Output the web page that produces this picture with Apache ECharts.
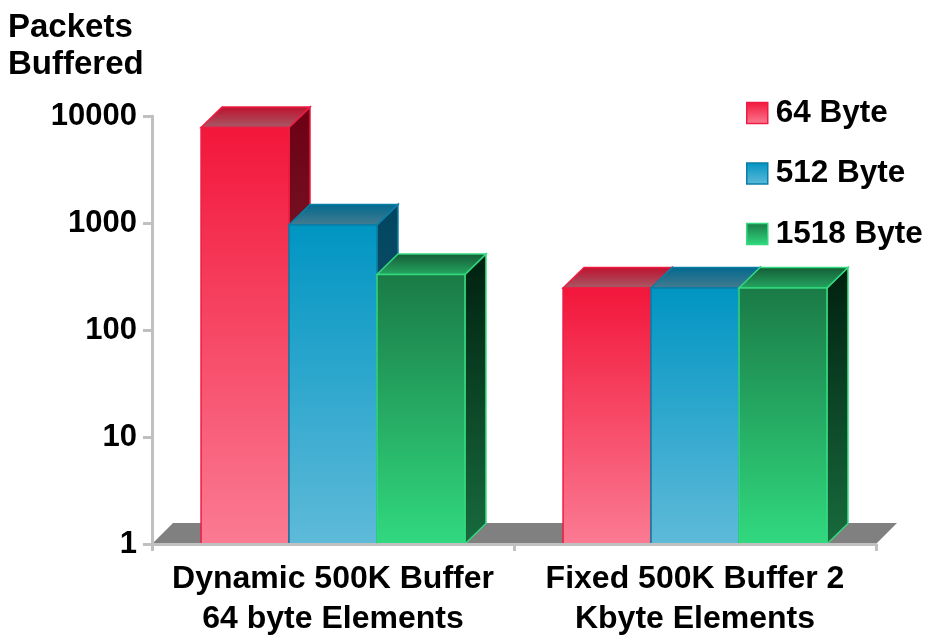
<!DOCTYPE html>
<html>
<head>
<meta charset="utf-8">
<style>html,body{margin:0;padding:0;background:#fff}#c{width:927px;height:635px}</style>
<script src="https://cdn.jsdelivr.net/npm/echarts@6/dist/echarts.min.js"></script>
</head>
<body>
<div id="c"></div>
<script>
const categories = ['Dynamic 500K Buffer\n64 byte Elements', 'Fixed 500K Buffer 2\nKbyte Elements'];
const seriesNames = ['64 Byte', '512 Byte', '1518 Byte'];
const values64 = [7800, 247];
const values512 = [960, 247];
const values1518 = [330, 247];

const FONT = '"Liberation Sans", Arial, sans-serif';
const DX = 21, DY = -20.5;
function grad(a, b) {
  return {type:'linear', x:0, y:0, x2:0, y2:1, colorStops:[{offset:0,color:a},{offset:1,color:b}]};
}
const palette = [
  {front:['#f2163a','#fb7b93'], top:['#c00f2c','#a55c68'], side:['#6c0012','#8a3a4a'], line:'#ee1c42'},
  {front:['#0095c2','#5fbad9'], top:['#00688e','#457c90'], side:['#004560','#2f6070'], line:'#0a7ea6'},
  {front:['#1a7a46','#31d97f'], top:['#145a35','#25a862'], side:['#00200f','#186b3e'], line:'#33d97f'}
];

function barRender(sIdx) {
  return function (params, api) {
    const cat = api.value(0), val = api.value(1);
    const band = api.size([1, 0])[0];
    const w = band * 0.243;
    const c = api.coord([cat, 1]);
    const t = api.coord([cat, val]);
    const x0 = c[0] + (sIdx - 1.5) * w, x1 = x0 + w;
    const yb = c[1], yt = t[1];
    const p = palette[sIdx];
    const lw = 1.5;
    return {type:'group', children:[
      {type:'polygon', shape:{points:[[x1,yt],[x1+DX,yt+DY],[x1+DX,yb+DY],[x1,yb]]},
        style:{fill:grad(p.side[0],p.side[1]), stroke:p.line, lineWidth:lw}},
      {type:'polygon', shape:{points:[[x0,yt],[x0+DX,yt+DY],[x1+DX,yt+DY],[x1,yt]]},
        style:{fill:grad(p.top[0],p.top[1]), stroke:p.line, lineWidth:lw}},
      {type:'rect', shape:{x:x0,y:yt,width:w,height:yb-yt},
        style:{fill:grad(p.front[0],p.front[1]), stroke:p.line, lineWidth:lw}}
    ]};
  };
}
function floorRender(params, api) {
  const cs = params.coordSys;
  const y = cs.y + cs.height;
  const l = cs.x, r = cs.x + cs.width;
  return {type:'polygon', shape:{points:[[l,y],[l+DX,y-21],[r+DX,y-21],[r,y]]}, style:{fill:'#808080'}};
}
const seriesData = [values64, values512, values1518];
const chart = echarts.init(document.getElementById('c'), null, {renderer:'canvas'});
chart.setOption({
  animation:false,
  backgroundColor:'#fff',
  title:{text:'Packets\nBuffered', left:3, top:4,
    textStyle:{fontFamily:FONT, fontSize:33, fontWeight:'bold', color:'#000', lineHeight:37}},
  legend:{orient:'vertical', left:741, top:92, itemWidth:21, itemHeight:21, itemGap:28.5, selectedMode:false,
    textStyle:{fontFamily:FONT, fontSize:31.5, fontWeight:'bold', color:'#000', padding:[0,0,0,3]},
    data:seriesNames.map((n,i)=>({name:n, icon:'rect',
      itemStyle:{color:grad(palette[i].front[0],palette[i].front[1]), borderColor:palette[i].line, borderWidth:1.5}}))},
  grid:{left:152, right:51, top:116, bottom:91, outerBoundsMode:'none'},
  xAxis:{type:'category', data:categories, z:5,
    axisLine:{lineStyle:{color:'#c0c0c0', width:3}},
    axisTick:{show:true, length:7, alignWithLabel:false, lineStyle:{color:'#c0c0c0', width:3}},
    axisLabel:{interval:0, margin:15, color:'#000', fontFamily:FONT, fontSize:32, fontWeight:'bold', lineHeight:40, align:'center', hideOverlap:false}
  },
  yAxis:{type:'log', logBase:10, min:1, max:10000, z:5,
    splitLine:{show:false}, minorTick:{show:false},
    axisLine:{show:true, lineStyle:{color:'#c0c0c0', width:3}},
    axisTick:{show:true, length:9, lineStyle:{color:'#c0c0c0', width:3}},
    axisLabel:{margin:15, color:'#000', fontFamily:FONT, fontSize:31, fontWeight:'bold', formatter:v=>String(Math.round(v))}
  },
  series:[
    {type:'custom', name:'floor', silent:true, z:1, data:[[0,1]], renderItem:floorRender, encode:{x:0,y:1}},
    ...seriesNames.map((n,i)=>({type:'custom', name:n, z:2+i, silent:true,
      itemStyle:{color:palette[i].front[0]},
      data:seriesData[i].map((v,k)=>[k,v]), encode:{x:0,y:1}, renderItem:barRender(i)}))
  ]
});
</script>
</body>
</html>
